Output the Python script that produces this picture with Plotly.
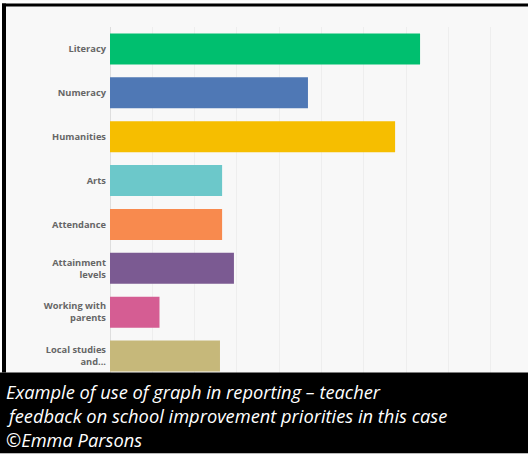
import plotly.graph_objects as go

categories = ["Literacy", "Numeracy", "Humanities", "Arts", "Attendance",
              "Attainment<br>levels", "Working with<br>parents", "Local studies<br>and..."]
values = [73.3, 46.8, 67.4, 26.5, 26.5, 29.3, 11.7, 26.0]
colors = ["#00BF6F", "#4F78B5", "#F6BE00", "#6CC8CA", "#F88A4E", "#7B5A92", "#D55D93", "#C6B87A"]
caption_lines = [
    "Example of use of graph in reporting – teacher",
    "feedback on school improvement priorities in this case",
    "©Emma Parsons",
]

W, H = 528, 454
L, R, T, B = 110, 0, 26.5, 75.5
pw, ph = W - L - R, H - T - B

def px(x):
    return (x - L) / pw

def py(y):
    return (H - B - y) / ph

fig = go.Figure(go.Bar(
    x=values, y=categories, orientation="h",
    marker=dict(color=colors, line=dict(width=0)),
    hoverinfo="skip",
))

shapes = [
    dict(type="rect", xref="paper", yref="paper", x0=px(0), x1=px(W), y0=py(0), y1=py(3),
         fillcolor="white", line_width=0, layer="below"),
    dict(type="rect", xref="paper", yref="paper", x0=px(0), x1=px(2), y0=py(0), y1=py(H),
         fillcolor="white", line_width=0, layer="below"),
    dict(type="rect", xref="paper", yref="paper", x0=px(2), x1=px(W), y0=py(3), y1=py(6),
         fillcolor="black", line_width=0, layer="above"),
    dict(type="rect", xref="paper", yref="paper", x0=px(2), x1=px(6), y0=py(3), y1=py(373),
         fillcolor="black", line_width=0, layer="above"),
    dict(type="rect", xref="paper", yref="paper", x0=px(0), x1=px(W), y0=py(373), y1=py(H),
         fillcolor="black", line_width=0, layer="above"),
]

annotations = []
for line, yc in zip(caption_lines, [392.5, 416.5, 440.5]):
    annotations.append(dict(
        text=line, xref="paper", yref="paper", x=px(5), y=py(yc),
        xanchor="left", yanchor="middle", showarrow=False, borderpad=0,
        font=dict(family="Open Sans", size=18.3, color="white", style="italic"),
    ))

fig.update_layout(
    width=W, height=H,
    margin=dict(l=L, r=R, t=T, b=B, pad=0),
    paper_bgcolor="#f8f8f8", plot_bgcolor="#f8f8f8",
    bargap=0.295,
    showlegend=False,
    shapes=shapes,
    annotations=annotations,
    xaxis=dict(range=[0, pw / 4.23], dtick=10, showticklabels=False, ticks="",
               showgrid=True, gridcolor="#eeeeee", gridwidth=1,
               zeroline=True, zerolinecolor="#dedede", zerolinewidth=1, showline=False,
               fixedrange=True),
    yaxis=dict(autorange="reversed", ticks="", showgrid=False, showline=False,
               tickfont=dict(family="Open Sans", size=9.3, color="#666666", weight="bold"),
               ticklabelstandoff=3, fixedrange=True),
)

fig.write_html("out.html")
